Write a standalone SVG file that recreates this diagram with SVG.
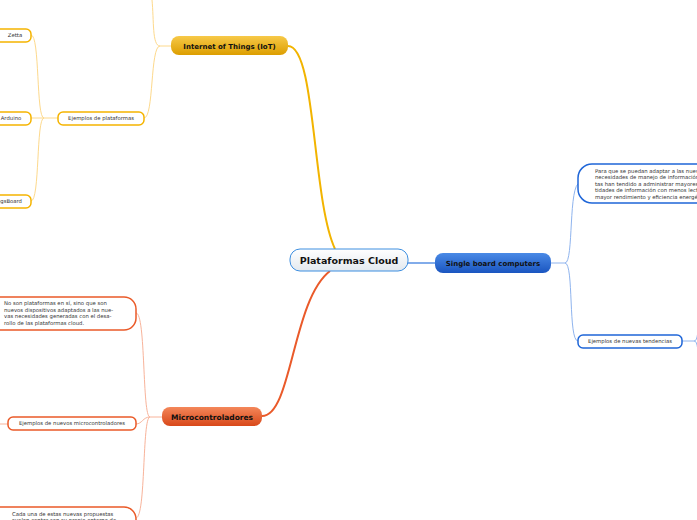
<svg xmlns="http://www.w3.org/2000/svg" width="697" height="520" viewBox="0 0 697 520">
<defs>
<linearGradient id="gCenter" x1="0" y1="0" x2="0" y2="1"><stop offset="0" stop-color="#ffffff"/><stop offset="1" stop-color="#e3e9ef"/></linearGradient>
<linearGradient id="gGold" x1="0" y1="0" x2="0" y2="1"><stop offset="0" stop-color="#f7c948"/><stop offset="1" stop-color="#dc9e00"/></linearGradient>
<linearGradient id="gBlue" x1="0" y1="0" x2="0" y2="1"><stop offset="0" stop-color="#4a8ae6"/><stop offset="1" stop-color="#1a55c0"/></linearGradient>
<linearGradient id="gRed" x1="0" y1="0" x2="0" y2="1"><stop offset="0" stop-color="#f4875a"/><stop offset="1" stop-color="#d8481a"/></linearGradient>
</defs>
<style>
text{font-family:"DejaVu Sans",Verdana,sans-serif;fill:#222}
.main{font-weight:bold;font-size:7px;text-anchor:middle;fill:#111}
.sm{font-size:5.3px;fill:#333}
.c{text-anchor:middle}
.sub-g{fill:#fff;stroke:#f5b400;stroke-width:1.5}
.sub-b{fill:#fff;stroke:#1f66d8;stroke-width:1.5}
.sub-r{fill:#fff;stroke:#ea5a28;stroke-width:1.5}
.lg{fill:none;stroke:#fdd98c;stroke-width:1}
.lb{fill:none;stroke:#8fb4ee;stroke-width:1}
.lr{fill:none;stroke:#f8b39a;stroke-width:1}
</style>
<g id="connectors">
<path d="M288,46 C316,46 312,200 335,249" fill="none" stroke="#f2b400" stroke-width="2"/>
<path d="M262,416 C292,416 292,300 330,271" fill="none" stroke="#ea5a2a" stroke-width="2"/>
<path d="M408,263 L435,263" fill="none" stroke="#2f76dc" stroke-width="1.2"/>
<path class="lg" d="M171,46 L160,46 M160,46 C152,46 154,20 152,0 M160,46 C150,46 154,118 144,118"/>
<path class="lg" d="M58,118 L44,118 M44,118 C36,118 40,35 31,35 M44,118 L31,118 M44,118 C36,118 40,201 31,201"/>
<path class="lb" d="M551,263 L565,263 M565,263 C574,263 568,183 580,183 M565,263 C574,263 568,341 578,341"/>
<path class="lb" d="M682,341 L694,341 M694,341 C697,341 697,336 698,332 M694,341 C697,341 697,346 698,350"/>
<path class="lr" d="M162,417 L150,417 M150,417 C142,417 146,313 136,313 M150,417 C143,417 142,424 136,424 M150,417 C142,417 146,517 136,518 M8,424 L0,424"/>
</g>
<g id="central">
<rect x="290" y="249" width="118" height="22" rx="10" fill="url(#gCenter)" stroke="#3c8ee0" stroke-width="1"/>
<text x="349" y="263.5" class="c" style="font-weight:bold;font-size:9.5px;fill:#111">Plataformas Cloud</text>
</g>
<g id="iot">
<rect x="171" y="36" width="117" height="19" rx="8" fill="url(#gGold)"/>
<text x="229.5" y="48.5" class="main">Internet of Things (IoT)</text>
</g>
<g id="ejemplos-plataformas">
<rect x="58" y="112" width="86" height="13" rx="5" class="sub-g"/>
<text x="101" y="120.3" class="sm c">Ejemplos de plataformas</text>
</g>
<g id="zetta">
<rect x="-10" y="29" width="41" height="13" rx="5" class="sub-g"/>
<text x="15" y="37.3" class="sm c">Zetta</text>
</g>
<g id="arduino">
<rect x="-10" y="112" width="41" height="13" rx="5" class="sub-g"/>
<text x="11" y="120.3" class="sm c">Arduino</text>
</g>
<g id="thingsboard">
<rect x="-30" y="195" width="61" height="13" rx="5" class="sub-g"/>
<text x="22" y="203.3" class="sm" text-anchor="end">ThingsBoard</text>
</g>
<g id="single-board">
<rect x="435" y="253" width="116" height="20" rx="8" fill="url(#gBlue)"/>
<text x="493" y="265.5" class="main">Single board computers</text>
</g>
<g id="sbc-text">
<rect x="578" y="164" width="140" height="39" rx="14" class="sub-b"/>
<text class="sm" x="595" y="172.5">Para que se puedan adaptar a las nuevas</text>
<text class="sm" x="595" y="179">necesidades de manejo de información, és-</text>
<text class="sm" x="595" y="185.5">tas han tendido a administrar mayores can-</text>
<text class="sm" x="595" y="192">tidades de información con menos lecturas y</text>
<text class="sm" x="595" y="198.5">mayor rendimiento y eficiencia energética.</text>
</g>
<g id="ejemplos-tendencias">
<rect x="578" y="335" width="104" height="13" rx="5" class="sub-b"/>
<text x="630" y="343.3" class="sm c">Ejemplos de nuevas tendencias</text>
</g>
<g id="microcontroladores">
<rect x="162" y="407" width="100" height="19" rx="8" fill="url(#gRed)"/>
<text x="212" y="419.5" class="main" style="font-size:7.5px">Microcontroladores</text>
</g>
<g id="micro-text">
<rect x="-20" y="297" width="156" height="33" rx="12" class="sub-r"/>
<text class="sm" x="4" y="305">No son plataformas en sí, sino que son</text>
<text class="sm" x="4" y="311.5">nuevos dispositivos adaptados a las nue-</text>
<text class="sm" x="4" y="318">vas necesidades generadas con el desa-</text>
<text class="sm" x="4" y="324.5">rollo de las plataformas cloud.</text>
</g>
<g id="ejemplos-micro">
<rect x="8" y="417" width="128" height="13" rx="5" class="sub-r"/>
<text x="72" y="425.3" class="sm c">Ejemplos de nuevos microcontroladores</text>
</g>
<g id="micro-text2">
<rect x="-20" y="507" width="156" height="40" rx="12" class="sub-r"/>
<text class="sm" x="12" y="515.5">Cada una de estas nuevas propuestas</text>
<text class="sm" x="12" y="522">suelen contar con su propio entorno de</text>
</g>
</svg>
